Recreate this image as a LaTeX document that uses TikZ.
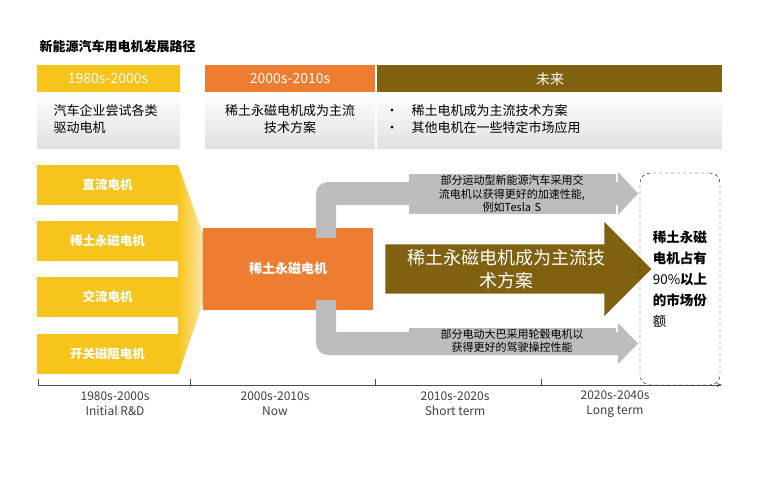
\documentclass[tikz,border=0pt]{standalone}
\usepackage{fontspec}
\setmainfont{Noto Sans CJK SC}
\usetikzlibrary{arrows.meta,shapes.arrows}
\definecolor{yel}{HTML}{F7C41B}
\definecolor{org}{HTML}{EE7D31}
\definecolor{oli}{HTML}{7F6110}
\definecolor{gr}{HTML}{BDBDBD}
\tikzset{
 hdr/.style={text=white,font=\fontsize{14}{16}\selectfont},
 body/.style={font=\fontsize{13}{17}\selectfont,align=left,anchor=west},
 ybox/.style={fill=yel,text=white,font=\bfseries\fontsize{12.5}{14}\selectfont},
 lbl/.style={fill=gr,font=\fontsize{11}{13.5}\selectfont,align=center,inner sep=1pt},
 axl/.style={font=\fontsize{12}{15}\selectfont,align=center,text=black!75}
}
\begin{document}
\begin{tikzpicture}[x=1pt,y=-1pt]
\useasboundingbox[fill=white] (0,0) rectangle (780,498);
\node[anchor=west,font=\bfseries\fontsize{13}{15}\selectfont] (title) at (36,47) {新能源汽车用电机发展路径};
% headers
\fill[yel] (37,65) rectangle (180,92);
\fill[org] (205,65) rectangle (375,92);
\fill[oli] (377,65) rectangle (722,92);
\shade[top color=white,bottom color=black!12] (37,92) rectangle (180,148);
\shade[top color=white,bottom color=black!12] (205,92) rectangle (375,148);
\shade[top color=white,bottom color=black!12] (377,92) rectangle (722,148);
\node[hdr] (h1) at (108,79) {1980s-2000s};
\node[hdr] (h2) at (290,79) {2000s-2010s};
\node[hdr] (h3) at (550,79) {未来};
\node[body] (b1) at (50,119) {汽车企业尝试各类\\驱动电机};
\node[font=\fontsize{13}{17}\selectfont,align=center] (b2) at (290,119) {稀土永磁电机成为主流\\技术方案};
\node[body] (b3) at (382,119) {•\quad 稀土电机成为主流技术方案\\•\quad 其他电机在一些特定市场应用};
% left stack
\shade[left color=yel,right color=white!70!yel] (178,165) -- (207,245) -- (207,291) -- (178,375) -- cycle;
\shade[left color=yel!40!white,right color=blue!55!cyan!80!black] (200,226) -- (216,268) -- (200,310) -- cycle;
\node[ybox,minimum width=141pt,minimum height=40pt] (m1) at (107.5,185) {直流电机};
\node[ybox,minimum width=141pt,minimum height=40pt] (m2) at (107.5,241) {稀土永磁电机};
\node[ybox,minimum width=141pt,minimum height=40pt] (m3) at (107.5,297) {交流电机};
\node[ybox,minimum width=141pt,minimum height=40pt] (m4) at (107.5,354) {开关磁阻电机};
% gray branches
\fill[gr] (316,230) -- (316,194) arc[start angle=180,end angle=90,radius=12pt] -- (620,182) -- (620,205) -- (336,205) -- (336,230) -- cycle;
\fill[gr] (618,172) -- (638,193.5) -- (618,215) -- cycle;
\fill[gr] (316,308) -- (316,343) arc[start angle=180,end angle=270,radius=12pt] -- (620,355) -- (620,332) -- (336,332) -- (336,308) -- cycle;
\fill[gr] (618,323) -- (638,343.5) -- (618,364) -- cycle;
% orange
\node[fill=org,minimum width=170pt,minimum height=82pt,text=white,font=\bfseries\fontsize{13}{15}\selectfont] (re) at (288,269) {稀土永磁电机};
\fill[gr] (316,228) rectangle (336,238);
\fill[gr] (316,300) rectangle (336,310);
\node[lbl,text width=205pt] (t1) at (512,194) {部分运动型新能源汽车采用交\\流电机以获得更好的加速性能,\\例如Tesla S};
\node[lbl,text width=205pt] (t2) at (512,341) {部分电动大巴采用轮毂电机以\\获得更好的驾驶操控性能};
% big arrow
\node[single arrow,fill=oli,minimum height=266pt,minimum width=94pt,single arrow head extend=18pt,shape border rotate=0,inner sep=0pt,text width=215pt,align=center,text=white,font=\fontsize{18}{23}\selectfont] (big) at (506,269) {稀土永磁电机成为主流技\\术方案};
\node[draw,dashed,rounded corners=10pt,minimum width=80pt,minimum height=212pt,align=left,font=\bfseries\fontsize{13.5}{21}\selectfont] (fut) at (680,279) {稀土永磁\\电机占有\\\mdseries 90\%\bfseries 以上\\的市场份\\\mdseries 额};
% axis
\coordinate (a0) at (38,385);
\coordinate (a1) at (722,385);
\draw[black!70,-{Stealth[length=5pt]}] (a0) -- (a1);
\foreach \x in {38,190,375,541} \draw[black!70] (\x,379) -- (\x,385);
\node[axl] (l1) at (115,404) {1980s-2000s\\Initial R\&D};
\node[axl] (l2) at (275,404) {2000s-2010s\\Now};
\node[axl] (l3) at (455,404) {2010s-2020s\\Short term};
\node[axl] (l4) at (615,404) {2020s-2040s\\Long term};
\end{tikzpicture}
\end{document}
